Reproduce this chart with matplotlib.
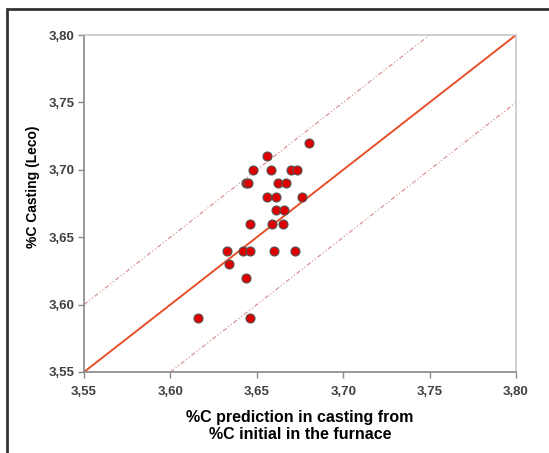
import matplotlib.pyplot as plt
from matplotlib.patches import Rectangle
from matplotlib.ticker import FixedLocator, FuncFormatter

plt.rcParams['font.family'] = ['Liberation Sans', 'DejaVu Sans']

# %C prediction (x) vs %C casting Leco (y)
pred = [3.680, 3.656, 3.648, 3.658, 3.670, 3.673,
        3.644, 3.645, 3.662, 3.667,
        3.656, 3.661, 3.676,
        3.661, 3.666,
        3.646, 3.659, 3.665,
        3.633, 3.642, 3.646, 3.660, 3.672,
        3.634, 3.644, 3.616, 3.646]
leco = [3.72, 3.71, 3.70, 3.70, 3.70, 3.70,
        3.69, 3.69, 3.69, 3.69,
        3.68, 3.68, 3.68,
        3.67, 3.67,
        3.66, 3.66, 3.66,
        3.64, 3.64, 3.64, 3.64, 3.64,
        3.63, 3.62, 3.59, 3.59]

lo, hi = 3.55, 3.80
band = 0.05
ticks = [3.55, 3.60, 3.65, 3.70, 3.75, 3.80]

fig = plt.figure(figsize=(5.49, 4.53), dpi=100)
ax = fig.add_axes([84/549, 1 - 372/453, 432/549, 337/453])

# outer frame (only left/top visible in the crop)
fig.patches.append(Rectangle((7/549, -0.1), 1.2, 1 - 9/453 + 0.1,
                             transform=fig.transFigure, fill=False,
                             edgecolor='#333333', linewidth=2))

ax.plot([lo, hi], [lo, hi], color='#e8502a', linewidth=1.4, zorder=2)
ax.plot([lo, hi - band], [lo + band, hi], color='#d88888', linewidth=0.8,
        linestyle=(0, (4, 2, 1, 2, 1, 2)), zorder=1)
ax.plot([lo + band, hi], [lo, hi - band], color='#d88888', linewidth=0.8,
        linestyle=(0, (4, 2, 1, 2, 1, 2)), zorder=1)
ax.plot(pred, leco, 'o', markersize=6.5, markerfacecolor='#dd0000',
        markeredgecolor='#555555', markeredgewidth=0.8, zorder=3)

ax.set_xlim(lo, hi)
ax.set_ylim(lo, hi)
fmt = FuncFormatter(lambda v, p: f"{v:.2f}".replace('.', ','))
for axis in (ax.xaxis, ax.yaxis):
    axis.set_major_locator(FixedLocator(ticks))
    axis.set_major_formatter(fmt)
ax.tick_params(direction='out', length=4, width=1, color='#888888',
               labelsize=9.5, labelcolor='#404040', pad=3)
ax.tick_params(axis='x', pad=6)
for lbl in ax.get_xticklabels() + ax.get_yticklabels():
    lbl.set_fontweight('bold')
for s in ['left', 'bottom']:
    ax.spines[s].set_color('#888888')
    ax.spines[s].set_linewidth(1.2)
for s in ['top', 'right']:
    ax.spines[s].set_color('#c8c8c8')
    ax.spines[s].set_linewidth(1.2)

ax.set_xlabel("%C prediction in casting from\n%C initial in the furnace",
              fontsize=11.5, fontweight='bold', linespacing=1.2)
ax.xaxis.set_label_coords(0.5, -0.112)
ax.set_ylabel("%C Casting (Leco)", fontsize=10, fontweight='bold')
ax.yaxis.set_label_coords(-0.102, 0.55)

fig.savefig("out.png", dpi=100)
